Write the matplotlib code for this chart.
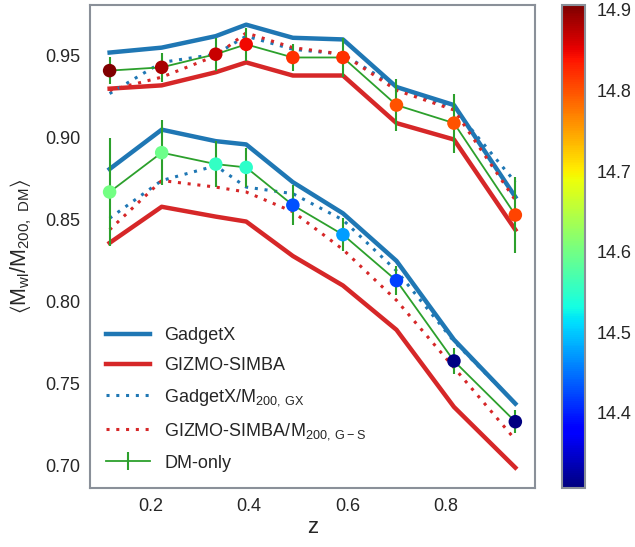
import numpy as np
import matplotlib
matplotlib.use("Agg")
import matplotlib.pyplot as plt

plt.rcParams['font.family'] = ['Liberation Sans', 'DejaVu Sans']
plt.rcParams['mathtext.default'] = 'regular'
plt.rcParams['text.color'] = '0.15'
plt.rcParams['axes.labelcolor'] = '0.15'
plt.rcParams['xtick.color'] = '0.15'
plt.rcParams['ytick.color'] = '0.15'

# redshift of each snapshot
z = [0.116, 0.222, 0.332, 0.394, 0.489, 0.591, 0.700, 0.817, 0.942]

# high-mass bin
gx_hi = [0.952, 0.955, 0.962, 0.969, 0.961, 0.960, 0.931, 0.920, 0.864]
gs_hi = [0.930, 0.932, 0.940, 0.946, 0.938, 0.938, 0.909, 0.899, 0.844]
gx_hi_own = [0.927, 0.946, 0.951, 0.962, 0.954, 0.951, 0.931, 0.918, 0.873]
gs_hi_own = [0.929, 0.937, 0.950, 0.964, 0.955, 0.951, 0.929, 0.917, 0.862]
dm_hi = [0.941, 0.943, 0.951, 0.957, 0.949, 0.949, 0.920, 0.909, 0.853]
dm_hi_err = [0.008, 0.009, 0.010, 0.010, 0.008, 0.012, 0.016, 0.018, 0.023]
logm_hi = [14.906, 14.883, 14.867, 14.846, 14.820, 14.820, 14.800, 14.800, 14.810]

# low-mass bin
gx_lo = [0.881, 0.905, 0.898, 0.896, 0.873, 0.854, 0.825, 0.777, 0.738]
gs_lo = [0.836, 0.858, 0.852, 0.849, 0.828, 0.810, 0.783, 0.736, 0.699]
gx_lo_own = [0.851, 0.874, 0.883, 0.870, 0.866, 0.850, 0.819, 0.776, 0.738]
gs_lo_own = [0.844, 0.874, 0.870, 0.867, 0.855, 0.832, 0.801, 0.760, 0.716]
dm_lo = [0.867, 0.891, 0.884, 0.882, 0.859, 0.841, 0.813, 0.764, 0.727]
dm_lo_err = [0.033, 0.020, 0.014, 0.012, 0.012, 0.010, 0.009, 0.008, 0.007]
logm_lo = [14.600, 14.595, 14.555, 14.550, 14.430, 14.475, 14.420, 14.310, 14.307]

blue = '#1f77b4'
red = '#d62728'
green = '#2ca02c'
edge = '#8a9099'

fig = plt.figure(figsize=(6.35, 5.47), dpi=100)
ax = fig.add_axes([0.1417, 0.1079, 0.7008, 0.883])
cax = fig.add_axes([0.885, 0.1079, 0.0367, 0.883])

vmin = min(logm_hi + logm_lo)
vmax = max(logm_hi + logm_lo)

for i, (gx, gs, gxo, gso, dm, err, lm) in enumerate([
        (gx_hi, gs_hi, gx_hi_own, gs_hi_own, dm_hi, dm_hi_err, logm_hi),
        (gx_lo, gs_lo, gx_lo_own, gs_lo_own, dm_lo, dm_lo_err, logm_lo)]):
    ax.plot(z, gx, color=blue, lw=3.2, label='GadgetX' if i == 0 else None)
    ax.plot(z, gs, color=red, lw=3.2, label='GIZMO-SIMBA' if i == 0 else None)
    ax.plot(z, gxo, color=blue, lw=2.2, ls=(0, (1, 2.2)),
            label=r'GadgetX/M$_{200,\, GX}$' if i == 0 else None)
    ax.plot(z, gso, color=red, lw=2.2, ls=(0, (1, 2.2)),
            label=r'GIZMO-SIMBA/M$_{200,\, G-S}$' if i == 0 else None)
    ax.errorbar(z, dm, yerr=err, color=green, lw=1.3, elinewidth=1.5,
                label='DM-only' if i == 0 else None)
    sc = ax.scatter(z, dm, c=lm, cmap='jet', vmin=vmin, vmax=vmax, s=95,
                    zorder=5, linewidths=0)

ax.set_xlim(0.076, 0.982)
ax.set_ylim(0.6866, 0.981)
ax.set_xticks([0.2, 0.4, 0.6, 0.8])
ax.set_yticks([0.70, 0.75, 0.80, 0.85, 0.90, 0.95])
ax.tick_params(length=0, labelsize=13, pad=7)
ax.set_xlabel('z', fontsize=16, labelpad=2)
ax.set_ylabel(r'$\langle M_{wl}/M_{200,\ DM}\rangle$', fontsize=15.5, labelpad=8)
for sp in ax.spines.values():
    sp.set_color(edge)
    sp.set_linewidth(1.5)

ax.legend(loc='lower left', frameon=False, fontsize=13, handlelength=2.4,
          labelspacing=0.72, bbox_to_anchor=(0.0, 0.0))

cb = fig.colorbar(sc, cax=cax)
cb.set_ticks([14.4, 14.5, 14.6, 14.7, 14.8, 14.9])
cb.ax.tick_params(length=0, labelsize=13, pad=8)
cb.outline.set_edgecolor(edge)
cb.outline.set_linewidth(1.5)

fig.savefig('out.png', dpi=100)
